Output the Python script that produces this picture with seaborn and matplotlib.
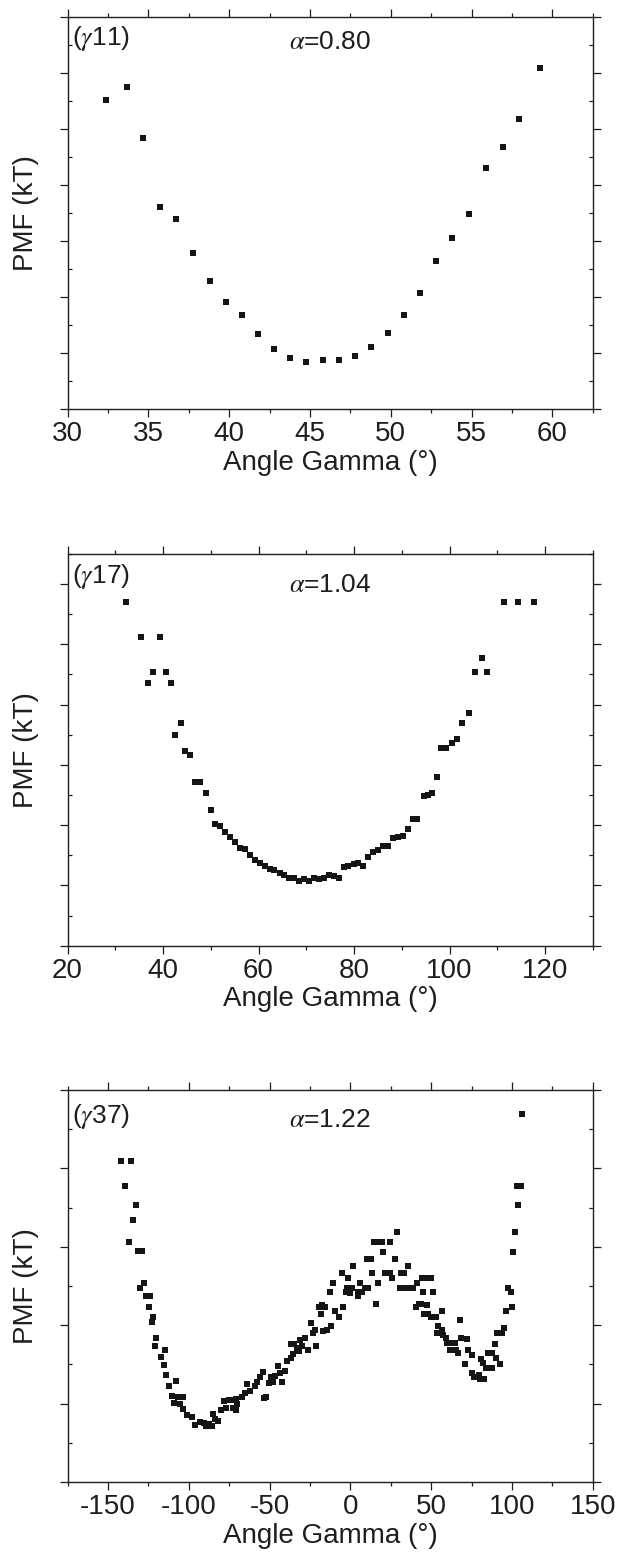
import matplotlib
matplotlib.use("Agg")
import matplotlib.pyplot as plt
import seaborn as sns
import pandas as pd
from matplotlib.ticker import MultipleLocator

# panel (gamma11), alpha = 0.80
g11_angle = [32.40, 33.65, 34.68, 35.71, 36.73, 37.76, 38.79, 39.78, 40.79, 41.80,
             42.79, 43.78, 44.77, 45.78, 46.79, 47.78, 48.79, 49.80, 50.79, 51.78,
             52.79, 53.80, 54.81, 55.87, 56.92, 57.93, 59.23]
g11_pmf = [5.52, 5.76, 4.85, 3.62, 3.40, 2.80, 2.29, 1.92, 1.68, 1.34,
           1.07, 0.91, 0.84, 0.88, 0.89, 0.96, 1.11, 1.37, 1.69, 2.07,
           2.65, 3.06, 3.49, 4.31, 4.68, 5.18, 6.10]

# panel (gamma17), alpha = 1.04
g17_angle = [32.24, 35.37, 36.79, 37.99, 39.33, 40.52, 41.64, 42.61, 43.66, 44.70,
             45.75, 46.76, 47.75, 48.91, 49.99, 50.90, 51.90, 53.0, 54.0, 55.1,
             56.1, 57.1, 58.2, 59.2, 60.2, 61.3, 62.3, 63.3, 64.4, 65.4,
             66.4, 67.5, 68.5, 69.5, 70.6, 71.6, 72.6, 73.7, 74.7, 75.7,
             76.8, 77.8, 78.8, 79.9, 80.9, 81.9, 83.0, 84.0, 85.0, 86.1,
             87.1, 88.1, 89.2, 90.2, 91.27, 92.35, 93.18, 94.59, 95.42, 96.25,
             97.30, 98.28, 99.33, 100.60, 101.57, 102.61, 103.96, 105.37, 106.79, 107.84,
             111.49, 114.25, 117.61]
g17_pmf = [5.70, 5.12, 4.35, 4.54, 5.12, 4.54, 4.35, 3.49, 3.69, 3.23,
           3.16, 2.72, 2.72, 2.53, 2.25, 2.02, 1.98, 1.88, 1.80, 1.72,
           1.62, 1.60, 1.50, 1.42, 1.38, 1.33, 1.27, 1.25, 1.20, 1.18,
           1.13, 1.12, 1.08, 1.10, 1.08, 1.12, 1.10, 1.13, 1.18, 1.15,
           1.12, 1.30, 1.32, 1.35, 1.38, 1.33, 1.48, 1.55, 1.58, 1.65,
           1.65, 1.78, 1.80, 1.82, 1.93, 2.10, 2.10, 2.48, 2.50, 2.53,
           2.80, 3.28, 3.28, 3.37, 3.43, 3.69, 3.86, 4.54, 4.78, 4.54,
           5.70, 5.70, 5.70]

# panel (gamma37), alpha = 1.22
g37_angle = [-141.6, -135.9, -139.2, -132.8, -134.5, -137.2, -131.5, -129.0, -127.5, -130.1,
             -126.4, -123.8, -124.6, -122.0, -122.9, -120.0, -120.9, -114.8, -117.0, -115.6,
             -113.9, -112.1, -107.7, -110.4, -106.4, -103.5, -109.0, -105.5, -103.3, -101.1,
             -98.0, -96.3, -93.0, -90.8, -87.5, -89.2, -85.9, -84.9, -82.2, -83.5,
             -79.8, -77.2, -78.3, -75.4, -72.5, -71.0, -73.6, -70.6, -69.9, -67.0,
             -65.5, -63.7, -61.8, -59.3, -57.8, -56.0, -53.9, -53.4, -51.9, -50.1,
             -49.0, -46.8, -47.9, -44.6, -42.4, -43.5, -40.7, -39.1, -36.9, -36.9,
             -34.7, -35.3, -32.1, -33.0, -29.9, -31.2, -28.1, -26.4, -24.2, -23.1,
             -22.0, -21.1, -19.3, -17.8, -15.6, -18.2, -16.7, -14.5, -12.7, -11.8,
             -11.0, -9.4, -7.0, -5.5, -4.4, -2.6, -1.3, -2.2, 0.0, 1.8,
             1.3, 4.4, 4.8, 7.0, 6.2, 9.3, 10.1, 13.0, 11.0, 13.6,
             15.9, 14.5, 17.4, 19.4, 17.0, 20.3, 21.1, 24.2, 24.2, 25.7,
             27.3, 28.6, 30.4, 33.4, 31.2, 33.2, 35.6, 36.7, 38.9, 41.1,
             44.4, 40.7, 42.2, 43.8, 44.9, 47.7, 49.9, 46.6, 48.1, 50.9,
             45.3, 49.9, 52.8, 56.5, 54.3, 56.9, 53.7, 57.2, 59.4, 59.8,
             62.0, 64.7, 61.4, 65.4, 66.4, 68.0, 68.6, 71.9, 70.8, 72.9,
             75.5, 75.5, 76.6, 79.6, 80.2, 82.9, 80.7, 81.8, 85.1, 87.9,
             84.0, 87.3, 89.5, 90.2, 92.4, 91.0, 93.9, 95.0, 96.1, 97.3,
             99.1, 99.9, 100.6, 101.7, 103.9, 102.8, 105.7, 106.0]
g37_pmf = [4.10, 4.10, 3.77, 3.53, 3.34, 3.06, 2.95, 2.95, 2.54, 2.48,
           2.37, 2.37, 2.23, 2.10, 2.04, 1.84, 1.74, 1.69, 1.59, 1.49,
           1.37, 1.22, 1.29, 1.10, 1.08, 1.08, 1.01, 0.99, 0.93, 0.86,
           0.83, 0.73, 0.77, 0.75, 0.74, 0.71, 0.72, 0.87, 0.78, 0.81,
           0.92, 0.94, 1.03, 1.05, 0.94, 0.92, 1.05, 1.06, 1.00, 1.09,
           1.13, 1.25, 1.16, 1.22, 1.28, 1.34, 1.40, 1.07, 1.08, 1.26,
           1.34, 1.35, 1.28, 1.48, 1.28, 1.39, 1.41, 1.54, 1.58, 1.76,
           1.76, 1.63, 1.67, 1.71, 1.73, 1.81, 1.84, 1.68, 2.03, 1.90,
           1.94, 1.74, 2.23, 2.26, 2.23, 2.14, 1.93, 1.94, 2.42, 1.99,
           2.54, 2.18, 2.10, 2.67, 2.23, 2.43, 2.60, 2.47, 2.41, 2.76,
           2.47, 2.37, 2.43, 2.43, 2.54, 2.47, 2.84, 2.84, 2.47, 2.67,
           2.27, 3.06, 3.06, 3.06, 2.54, 2.94, 2.67, 2.67, 3.06, 2.60,
           2.84, 3.19, 2.47, 2.47, 2.67, 2.67, 2.76, 2.47, 2.47, 2.54,
           2.60, 2.23, 2.27, 2.27, 2.42, 2.26, 2.60, 2.60, 2.14, 2.42,
           2.14, 2.11, 2.10, 2.18, 1.99, 1.94, 1.90, 1.88, 1.84, 1.77,
           1.77, 1.77, 1.69, 1.69, 1.65, 2.07, 1.84, 1.82, 1.50, 1.68,
           1.62, 1.39, 1.34, 1.37, 1.32, 1.31, 1.57, 1.52, 1.65, 1.65,
           1.46, 1.46, 1.76, 1.58, 1.51, 1.90, 1.90, 1.96, 2.18, 2.47,
           2.42, 2.23, 2.94, 3.19, 3.53, 3.77, 3.77, 4.69]

panel_tags = ["($\\gamma$11)", "($\\gamma$17)", "($\\gamma$37)"]
alpha_labels = ["$\\alpha$=0.80", "$\\alpha$=1.04", "$\\alpha$=1.22"]

sns.set_style("ticks")
plt.rcParams['font.family'] = ['Liberation Sans', 'DejaVu Sans']
plt.rcParams['mathtext.fontset'] = 'stix'
plt.rcParams['axes.unicode_minus'] = False
ink = '#1e1e1e'

fig = plt.figure(figsize=(6.21, 15.53), dpi=100)

# axes boxes (left, bottom, width, height) in figure fractions
boxes = [[0.1087, 0.7364, 0.8460, 0.2524],
         [0.1087, 0.3910, 0.8460, 0.2524],
         [0.1087, 0.0457, 0.8460, 0.2524]]
xlims = [(30, 62.5), (20, 130), (-175, 150)]
xmajor = [5, 20, 50]
ylims = [(0, 7), (0, 6.5), (0, 5)]
tag_y = [0.945, 0.941, 0.932]
alpha_y = [0.937, 0.920, 0.923]

data = [(g11_angle, g11_pmf), (g17_angle, g17_pmf), (g37_angle, g37_pmf)]

for i, (ang, pmf) in enumerate(data):
    ax = fig.add_axes(boxes[i])
    df = pd.DataFrame({'angle': ang, 'pmf': pmf})
    sns.scatterplot(data=df, x='angle', y='pmf', ax=ax, marker='s', s=15,
                    color='#151515', linewidth=0)
    ax.set_xlim(*xlims[i])
    ax.set_ylim(*ylims[i])
    ax.xaxis.set_major_locator(MultipleLocator(xmajor[i]))
    ax.xaxis.set_minor_locator(MultipleLocator(xmajor[i] / 2))
    ax.yaxis.set_major_locator(MultipleLocator(1))
    ax.yaxis.set_minor_locator(MultipleLocator(0.5))

    for sp in ax.spines.values():
        sp.set_visible(True)
        sp.set_linewidth(1.0)
        sp.set_color(ink)

    ax.tick_params(which='major', direction='out', length=5.5, width=0.9,
                   top=True, right=True, color=ink, labelcolor=ink,
                   labelsize=20, pad=3)
    ax.tick_params(axis='x', which='minor', direction='out', length=3,
                   width=0.9, top=True, bottom=True, color=ink)
    ax.tick_params(axis='y', which='minor', direction='in', length=3,
                   width=0.9, left=True, right=True, color=ink)
    ax.tick_params(axis='y', which='both', labelleft=False)

    ax.set_xlabel("Angle Gamma (°)", fontsize=20, color=ink, labelpad=2)
    ax.set_ylabel("PMF (kT)", fontsize=20, color=ink, labelpad=15)

    ax.text(0.008, tag_y[i], panel_tags[i], transform=ax.transAxes,
            ha='left', va='center', fontsize=19, color=ink)
    ax.text(0.5, alpha_y[i], alpha_labels[i], transform=ax.transAxes,
            ha='center', va='center', fontsize=19, color=ink)

fig.savefig("out.png", dpi=100)
